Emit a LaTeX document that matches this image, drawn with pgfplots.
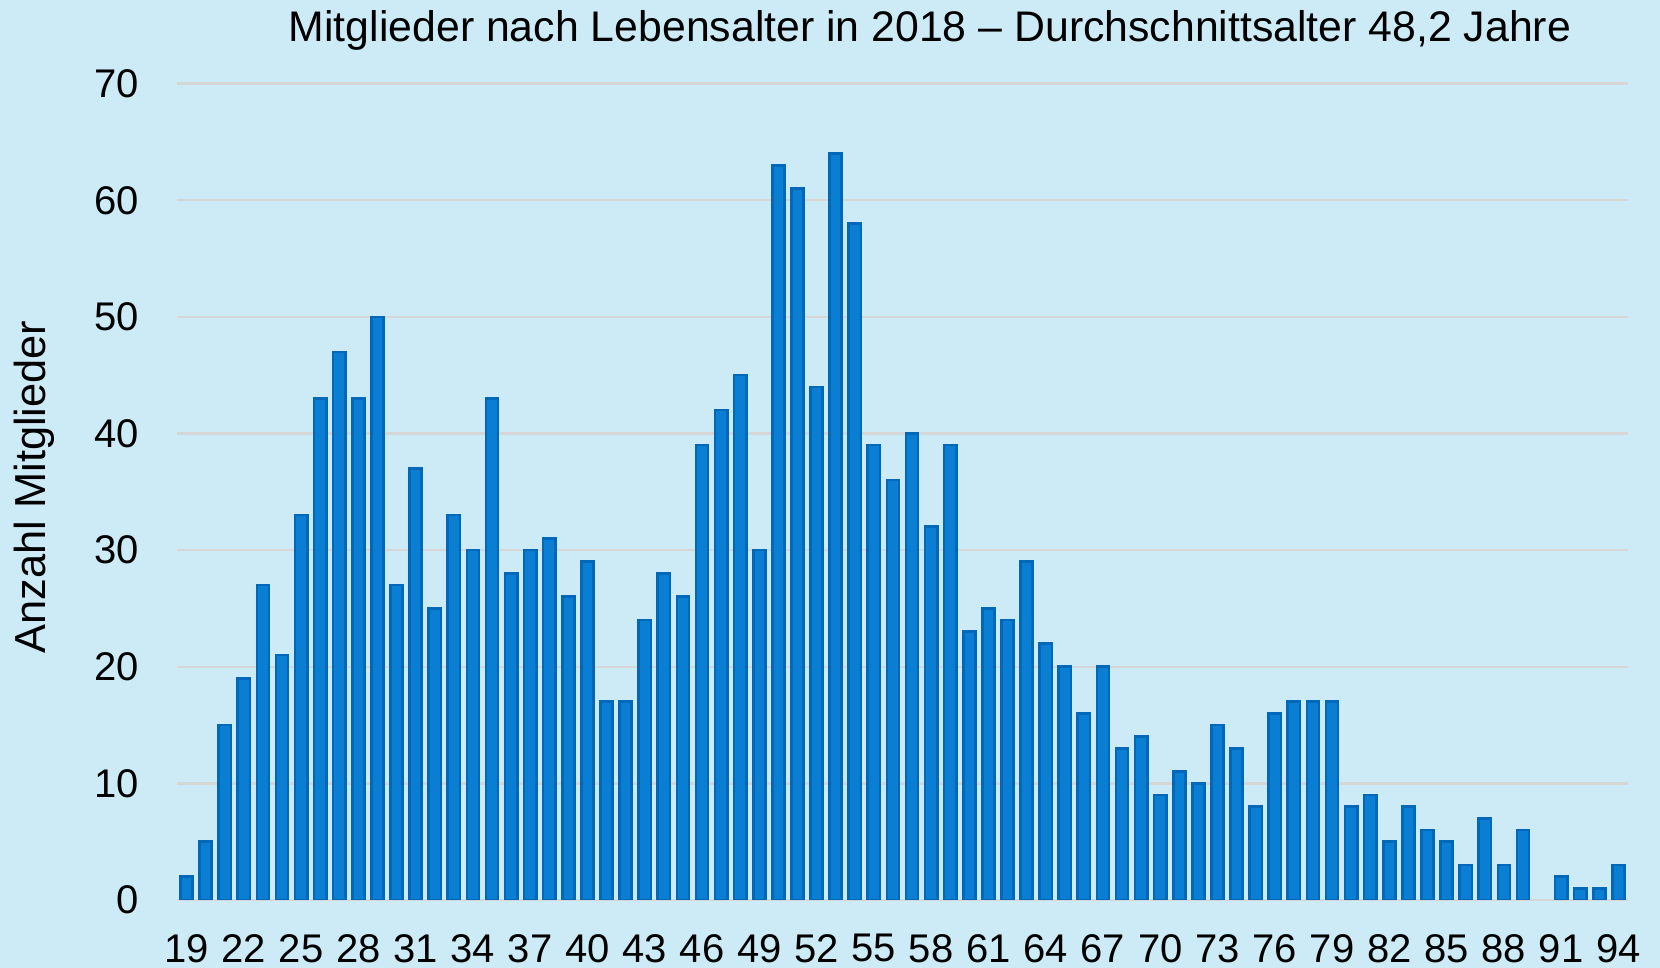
\documentclass[border=0pt]{standalone}
\usepackage{pgfplots}
\pgfplotsset{compat=1.18}
\usepackage{fontspec}
\setmainfont{Liberation Sans}

\definecolor{bg}{HTML}{CCEBF6}
\definecolor{barfill}{HTML}{0A7ED2}
\definecolor{barline}{HTML}{0068B8}
\definecolor{gridc}{HTML}{D6D6D6}

\begin{document}
\begin{tikzpicture}
\fill[bg] (-88.5pt,-34pt) rectangle (741.5pt,450pt);
\useasboundingbox (-88.5pt,-34pt) rectangle (741.5pt,450pt);
\begin{axis}[
    scale only axis,
    width=725.5pt, height=408.2pt,
    xmin=18.5, xmax=94.5,
    ymin=0, ymax=70,
    ytick={0,10,...,70},
    xtick={19,22,...,94},
    axis line style={draw=none},
    major tick length=0pt,
    ymajorgrids,
    grid style={gridc, line width=1.2pt},
    /pgf/number format/assume math mode=true,
    tick label style={font=\fontsize{20}{24}\selectfont},
    yticklabel style={anchor=east, inner sep=0pt, xshift=-19pt},
    xticklabel style={anchor=north, inner sep=0pt, yshift=-17pt},
    ybar, bar width=0.64,
]
\addplot[fill=barfill, draw=barline, line width=1.3pt] coordinates {
    (19,2) (20,5) (21,15) (22,19) (23,27) (24,21) (25,33) (26,43) (27,47) (28,43)
    (29,50) (30,27) (31,37) (32,25) (33,33) (34,30) (35,43) (36,28) (37,30) (38,31)
    (39,26) (40,29) (41,17) (42,17) (43,24) (44,28) (45,26) (46,39) (47,42) (48,45)
    (49,30) (50,63) (51,61) (52,44) (53,64) (54,58) (55,39) (56,36) (57,40) (58,32)
    (59,39) (60,23) (61,25) (62,24) (63,29) (64,22) (65,20) (66,16) (67,20) (68,13)
    (69,14) (70,9) (71,11) (72,10) (73,15) (74,13) (75,8) (76,16) (77,17) (78,17)
    (79,17) (80,8) (81,9) (82,5) (83,8) (84,6) (85,5) (86,3) (87,7) (88,3)
    (89,6) (91,2) (92,1) (93,1) (94,3)
};
\end{axis}
\node[anchor=base, font=\fontsize{21.4}{25}\selectfont] at (376.5pt,429pt)
    {Mitglieder nach Lebensalter in 2018 – Durchschnittsalter 48,2 Jahre};
\node[rotate=90, font=\fontsize{21.7}{25}\selectfont] at (-71.5pt,206.5pt) {Anzahl Mitglieder};
\end{tikzpicture}
\end{document}
